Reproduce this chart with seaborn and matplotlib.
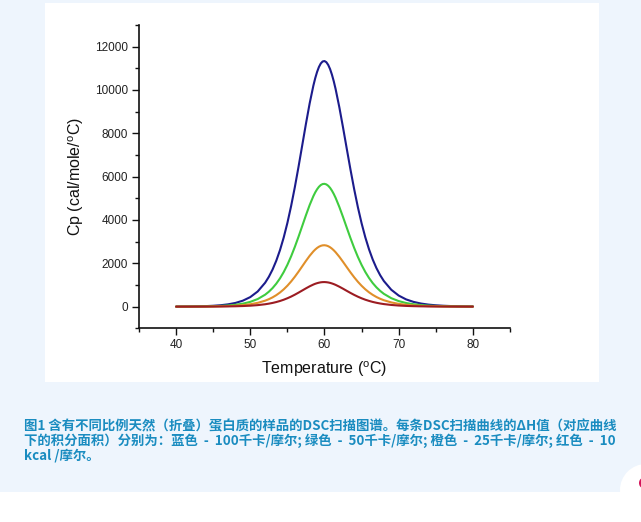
import matplotlib
matplotlib.use("Agg")
import matplotlib.pyplot as plt
import numpy as np
import pandas as pd
import seaborn as sns
from matplotlib.patches import Rectangle, Ellipse
from matplotlib.ticker import MultipleLocator

# ── Data (Cp in cal/mole/°C) ──
temperature = [40, 41, 42, 43, 44, 45, 46, 47, 48, 49, 50, 51, 52,
               52.5, 53, 53.5, 54, 54.5, 55, 55.5, 56, 56.5, 57, 57.5, 58, 58.5,
               58.75, 59, 59.25, 59.5, 59.75, 60, 60.25, 60.5, 60.75, 61, 61.25,
               61.5, 62, 62.5, 63, 63.5, 64, 64.5, 65, 65.5, 66, 66.5, 67, 67.5,
               68, 69, 70, 71, 72, 73, 74, 75, 76, 77, 78, 79, 80]

cp_blue = [3, 5, 9, 15, 24, 40, 65, 106, 171, 276, 441, 701, 1103,
           1377, 1712, 2119, 2608, 3188, 3865, 4642, 5511, 6456, 7448, 8442, 9382, 10201,
           10545, 10834, 11063, 11225, 11317, 11336, 11283, 11158, 10967, 10710, 10400,
           10039, 9202, 8265, 7290, 6328, 5419, 4588, 3847, 3200, 2645, 2174, 1780, 1453,
           1182, 779, 511, 334, 219, 143, 94, 62, 41, 27, 18, 12, 8]

cp_green = [2, 3, 5, 8, 12, 20, 33, 53, 86, 138, 221, 351, 552,
            689, 856, 1060, 1304, 1594, 1933, 2321, 2756, 3228, 3724, 4221, 4691, 5101,
            5273, 5417, 5532, 5613, 5659, 5668, 5642, 5579, 5484, 5355, 5200,
            5020, 4601, 4133, 3645, 3164, 2710, 2294, 1924, 1600, 1323, 1087, 890, 727,
            591, 390, 256, 167, 110, 72, 47, 31, 21, 14, 9, 6, 4]

cp_orange = [1, 1, 2, 4, 6, 10, 16, 27, 43, 69, 110, 175, 276,
             344, 428, 530, 652, 797, 966, 1161, 1378, 1614, 1862, 2111, 2346, 2550,
             2636, 2709, 2766, 2806, 2829, 2834, 2821, 2790, 2742, 2678, 2600,
             2510, 2301, 2066, 1823, 1582, 1355, 1147, 962, 800, 661, 544, 445, 363,
             296, 195, 128, 84, 55, 36, 24, 16, 10, 7, 5, 3, 2]

cp_red = [0, 1, 1, 2, 2, 4, 7, 11, 17, 28, 44, 70, 110,
          138, 171, 212, 261, 319, 387, 464, 551, 646, 745, 844, 938, 1020,
          1055, 1083, 1106, 1123, 1132, 1134, 1128, 1116, 1097, 1071, 1040,
          1004, 920, 827, 729, 633, 542, 459, 385, 320, 265, 217, 178, 145,
          118, 78, 51, 33, 22, 14, 9, 6, 4, 3, 2, 1, 1]

series_names = ["100 kcal", "50 kcal", "25 kcal", "10 kcal"]
series_colors = ["#1c1c8c", "#3fcc3f", "#e08f2a", "#9c1c22"]

caption_lines = [
    "图1 含有不同比例天然（折叠）蛋白质的样品的DSC扫描图谱。每条DSC扫描曲线的ΔH值（对应曲线",
    "下的积分面积）分别为：蓝色  -  100千卡/摩尔; 绿色  -  50千卡/摩尔; 橙色  -  25千卡/摩尔; 红色  -  10",
    "kcal /摩尔。",
]

df = pd.concat([
    pd.DataFrame({"T": temperature, "Cp": vals, "sample": name})
    for name, vals in zip(series_names, [cp_blue, cp_green, cp_orange, cp_red])
])

sns.set_style("ticks")
plt.rcParams["font.family"] = ["Liberation Sans", "DejaVu Sans"]

W, H = 641, 522
fig = plt.figure(figsize=(W / 100, H / 100), dpi=100, facecolor="#eef5fd")

# white strip at the bottom and white chart panel (behind the axes)
fig.patches.append(Rectangle((0, 0), 1, 30 / H, transform=fig.transFigure,
                             facecolor="white", edgecolor="none", zorder=-3))
fig.patches.append(Rectangle((45 / W, 1 - 381.7 / H), 554 / W, 379 / H,
                             transform=fig.transFigure, facecolor="white",
                             edgecolor="none", zorder=-3))
# little round button in the corner
fig.patches.append(Ellipse((646 / W, 1 - 490 / H), 52 / W, 52 / H, transform=fig.transFigure,
                           facecolor="white", edgecolor="none", zorder=-2))
fig.patches.append(Ellipse((643 / W, 1 - 483 / H), 8 / W, 10 / H, transform=fig.transFigure,
                           facecolor="#d4145a", edgecolor="none", zorder=-1))

ax = fig.add_axes([139 / W, 1 - 328.3 / H, 371 / W, 303.3 / H])
ax.set_facecolor("white")

sns.lineplot(data=df, x="T", y="Cp", hue="sample", hue_order=series_names,
             palette=series_colors, linewidth=1.5, legend=False, ax=ax)

ax.set_xlim(35, 85)
ax.set_ylim(-1000, 13000)
ax.set_xticks([40, 50, 60, 70, 80])
ax.xaxis.set_minor_locator(MultipleLocator(5))
ax.set_yticks([0, 2000, 4000, 6000, 8000, 10000, 12000])
ax.yaxis.set_minor_locator(MultipleLocator(1000))

ax.tick_params(which="major", length=5, width=1, color="#111111",
               labelsize=8.5, labelcolor="#222222", pad=3)
ax.tick_params(which="minor", length=3, width=1, color="#111111")
ax.spines[["top", "right"]].set_visible(False)
for side in ["left", "bottom"]:
    ax.spines[side].set_linewidth(1.2)
    ax.spines[side].set_color("#111111")

ax.set_xlabel(r"Temperature ($\mathregular{^{o}}$C)", fontsize=11.5, color="#111111", labelpad=6)
ax.set_ylabel(r"Cp (cal/mole/$\mathregular{^{o}}$C)", fontsize=11.5, color="#111111", labelpad=6)

for i, line in enumerate(caption_lines):
    fig.text(24.5 / W, 1 - (426 + 15 * i) / H, line, fontsize=9.65, fontweight="bold",
             color="#1a8cc0", va="center", ha="left",
             family=["Noto Sans CJK SC", "DejaVu Sans"])

fig.savefig("out.png", dpi=100, facecolor=fig.get_facecolor())
